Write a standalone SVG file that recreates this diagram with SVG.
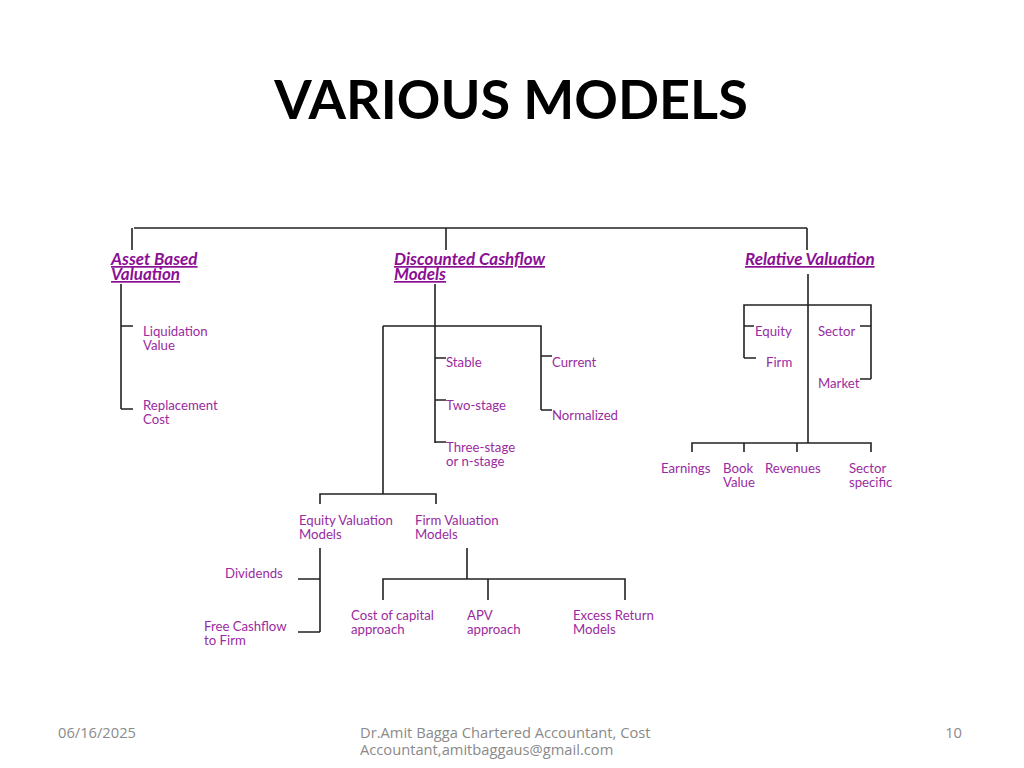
<svg xmlns="http://www.w3.org/2000/svg" width="1024" height="768" viewBox="0 0 1024 768">
<style>
.t{font-family:Lato,"Open Sans",sans-serif;font-size:13.2px;fill:#9a2ba0}
.h{font-family:Lato,"Open Sans",sans-serif;font-size:17px;font-weight:bold;font-style:italic;fill:#8b0f95;text-decoration:underline}
.f{font-family:"Open Sans",sans-serif;font-size:14.7px;fill:#8a8a8a}
#connectors path{fill:none;stroke:#222;stroke-width:1.6}
</style>
<rect width="1024" height="768" fill="#fff"/>
<text x="511" y="119" text-anchor="middle" font-family="Lato,sans-serif" font-weight="bold" font-size="54" fill="#000">VARIOUS MODELS</text>
<g id="connectors">
<path d="M134 228H807M132 228V250M446 228V250M807 228V250"/>
<path d="M121 284V409M121 326H133M121 409H133"/>
<path d="M435 284V443M435 358H446M435 400H446M435 442H446M383 326H541V410M541 356H552M541 410H552"/>
<path d="M383 326V494M320 504V494H436V504"/>
<path d="M320 548V632M298 579H320M298 632H320"/>
<path d="M467 548V579M383 600V579H625V600M488 579V600"/>
<path d="M808 274V443M744 358V305H871V379M744 326H754M744 358H756M860 326H871M860 379H871"/>
<path d="M692 452V443H871V452M744 443V452M797 443V452"/>
</g>
<g id="asset"><text class="h" x="111" y="265">Asset Based</text><text class="h" x="111" y="280">Valuation</text></g>
<g id="liq"><text class="t" x="143" y="336">Liquidation</text><text class="t" x="143" y="350">Value</text></g>
<g id="repl"><text class="t" x="143" y="410">Replacement</text><text class="t" x="143" y="424">Cost</text></g>
<g id="dcf"><text class="h" x="394" y="265">Discounted Cashflow</text><text class="h" x="394" y="280">Models</text></g>
<g id="stable"><text class="t" x="446" y="367">Stable</text></g>
<g id="two"><text class="t" x="446" y="410">Two-stage</text></g>
<g id="three"><text class="t" x="446" y="452">Three-stage</text><text class="t" x="446" y="466">or n-stage</text></g>
<g id="current"><text class="t" x="552" y="367">Current</text></g>
<g id="norm"><text class="t" x="552" y="420">Normalized</text></g>
<g id="eqv"><text class="t" x="299" y="525">Equity Valuation</text><text class="t" x="299" y="539">Models</text></g>
<g id="fv"><text class="t" x="415" y="525">Firm Valuation</text><text class="t" x="415" y="539">Models</text></g>
<g id="div"><text class="t" x="225" y="578">Dividends</text></g>
<g id="fcf"><text class="t" x="204" y="631">Free Cashflow</text><text class="t" x="204" y="645">to Firm</text></g>
<g id="coc"><text class="t" x="351" y="620">Cost of capital</text><text class="t" x="351" y="634">approach</text></g>
<g id="apv"><text class="t" x="467" y="620">APV</text><text class="t" x="467" y="634">approach</text></g>
<g id="excess"><text class="t" x="573" y="620">Excess Return</text><text class="t" x="573" y="634">Models</text></g>
<g id="rel"><text class="h" x="745" y="265">Relative Valuation</text></g>
<g id="equity"><text class="t" x="755" y="336">Equity</text></g>
<g id="firm"><text class="t" x="766" y="367">Firm</text></g>
<g id="sector"><text class="t" x="818" y="336">Sector</text></g>
<g id="market"><text class="t" x="818" y="388">Market</text></g>
<g id="earn"><text class="t" x="661" y="473">Earnings</text></g>
<g id="book"><text class="t" x="723" y="473">Book</text><text class="t" x="723" y="487">Value</text></g>
<g id="rev"><text class="t" x="765" y="473">Revenues</text></g>
<g id="ss"><text class="t" x="849" y="473">Sector</text><text class="t" x="849" y="487">specific</text></g>
<g id="footer">
<text class="f" x="58" y="738">06/16/2025</text>
<text class="f" x="360" y="738">Dr.Amit Bagga Chartered Accountant, Cost</text>
<text class="f" x="360" y="755">Accountant,amitbaggaus@gmail.com</text>
<text class="f" x="962" y="738" text-anchor="end">10</text>
</g>
</svg>
